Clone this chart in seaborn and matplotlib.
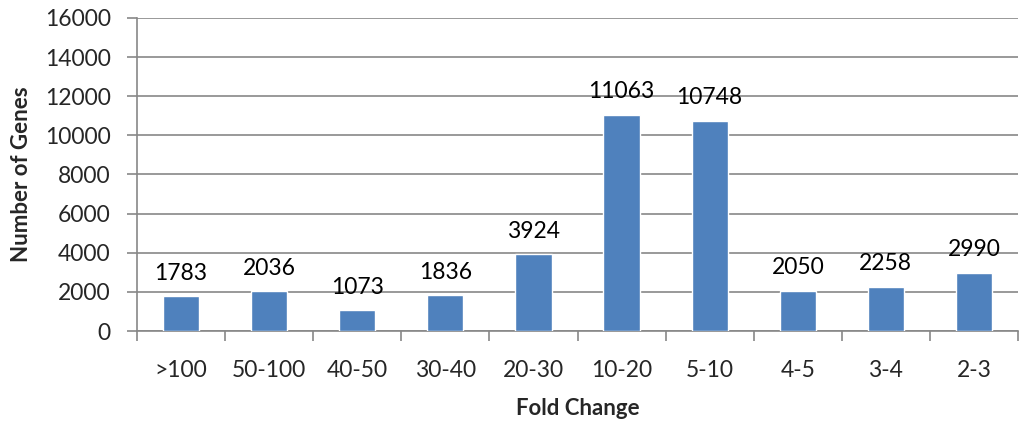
import matplotlib
matplotlib.use("Agg")
import matplotlib.pyplot as plt
import seaborn as sns
import pandas as pd
import numpy as np
from matplotlib.ticker import FixedLocator

fold_change = [">100", "50-100", "40-50", "30-40", "20-30", "10-20", "5-10", "4-5", "3-4", "2-3"]
gene_counts = [1783, 2036, 1073, 1836, 3924, 11063, 10748, 2050, 2258, 2990]
y_ticks = [0, 2000, 4000, 6000, 8000, 10000, 12000, 14000, 16000]

sns.set_theme(style="white")
plt.rcParams["font.family"] = ["Lato", "DejaVu Sans"]

df = pd.DataFrame({"Fold Change": fold_change, "Number of Genes": gene_counts})

fig = plt.figure(figsize=(10.21, 4.21), dpi=100)
ax = fig.add_axes([137 / 1021, 1 - 331 / 421, (1018 - 137) / 1021, (331 - 18) / 421])

sns.barplot(data=df, x="Fold Change", y="Number of Genes", color="#4F81BD",
            saturation=1, width=0.41, ax=ax, zorder=3)

ax.set_ylim(0, 16000)
ax.set_xlim(-0.5, len(fold_change) - 0.5)
ax.set_yticks(y_ticks)
ax.set_yticklabels([str(t) for t in y_ticks], fontsize=16.5)
ax.grid(axis="y", color="#878787", linewidth=1.2, zorder=0)

# category boundary ticks on the x axis
ax.xaxis.set_minor_locator(FixedLocator(np.arange(-0.5, len(fold_change) + 0.5, 1.0)))
ax.tick_params(axis="x", which="major", length=0, pad=21, labelsize=16.5)
ax.tick_params(axis="x", which="minor", length=7, width=1.2, color="#878787", direction="out", bottom=True)
ax.tick_params(axis="y", which="major", length=7, width=1.2, color="#878787", direction="out",
               left=True, pad=12)

for side in ["top", "right"]:
    ax.spines[side].set_visible(False)
for side in ["left", "bottom"]:
    ax.spines[side].set_color("#878787")
    ax.spines[side].set_linewidth(1.2)

for i, v in enumerate(gene_counts):
    ax.annotate(str(v), (i, v), xytext=(0, 9), textcoords="offset points",
                ha="center", va="bottom", fontsize=16.5, color="black")

ax.set_xlabel("Fold Change", fontsize=16, fontweight="bold", labelpad=12)
ax.set_ylabel("Number of Genes", fontsize=16, fontweight="bold", labelpad=9)

fig.savefig("out.png", dpi=100)
